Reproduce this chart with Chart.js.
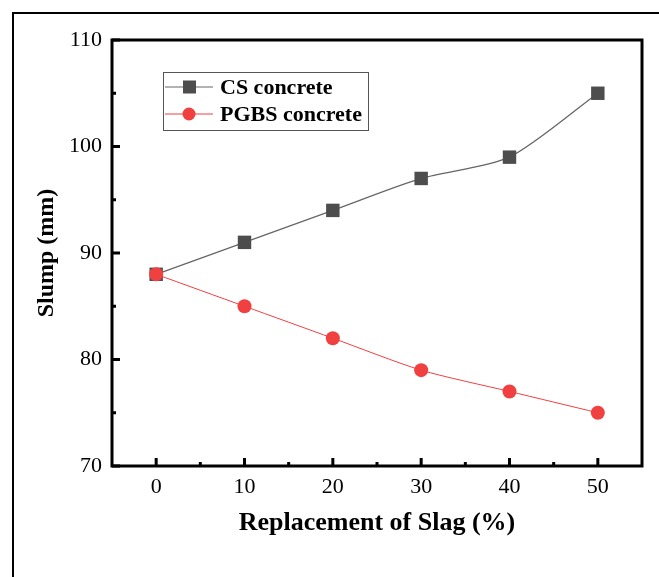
<!DOCTYPE html>
<html>
<head>
<meta charset="utf-8">
<script src="https://cdn.jsdelivr.net/npm/chart.js@4.4.0/dist/chart.umd.min.js"></script>
<style>
    html, body { margin: 0; padding: 0; background: #fff; }
    #wrap { position: relative; width: 659px; height: 577px; overflow: hidden; }
    #frame { position: absolute; left: 12px; top: 12px; width: 700px; height: 700px;
             border-top: 2px solid #000; border-left: 2px solid #000; }
    canvas { position: absolute; left: 0; top: 0; }
</style>
</head>
<body>
<div id="wrap">
    <div id="frame"></div>
    <canvas id="slumpChart" width="659" height="577"></canvas>
</div>
<script>
    // Datos
    const slagPct = [0, 10, 20, 30, 40, 50];
    const csSlump = [88, 91, 94, 97, 99, 105];
    const pgbsSlump = [88, 85, 82, 79, 77, 75];
    const xTicks = [0, 10, 20, 30, 40, 50];
    const yTicks = [70, 80, 90, 100, 110];
    const xMinor = [5, 15, 25, 35, 45];
    const yMinor = [75, 85, 95, 105];

    const serif = "'Liberation Serif', 'Times New Roman', serif";
    const grayCol = '#4d4d4d';
    const redCol = '#f04040';

    // Marco, ticks interiores, titulos y leyenda
    const decorPlugin = {
        id: 'decor',
        afterDraw(chart) {
            const ctx = chart.ctx;
            const a = chart.chartArea;
            const xs = chart.scales.x, ys = chart.scales.y;
            ctx.save();
            ctx.strokeStyle = '#000';
            ctx.lineWidth = 3;
            ctx.strokeRect(a.left, a.top, a.right - a.left, a.bottom - a.top);

            ctx.beginPath();
            xTicks.forEach(v => { const p = xs.getPixelForValue(v); ctx.moveTo(p, a.bottom); ctx.lineTo(p, a.bottom - 8); });
            xMinor.forEach(v => { const p = xs.getPixelForValue(v); ctx.moveTo(p, a.bottom); ctx.lineTo(p, a.bottom - 4); });
            yTicks.forEach(v => { const p = ys.getPixelForValue(v); ctx.moveTo(a.left, p); ctx.lineTo(a.left + 8, p); });
            yMinor.forEach(v => { const p = ys.getPixelForValue(v); ctx.moveTo(a.left, p); ctx.lineTo(a.left + 4, p); });
            ctx.stroke();

            // titulos de ejes
            ctx.fillStyle = '#000';
            ctx.textAlign = 'center';
            ctx.textBaseline = 'middle';
            ctx.font = 'bold 26px ' + serif;
            ctx.fillText('Replacement of Slag (%)', (a.left + a.right) / 2, 523);
            ctx.font = 'bold 24px ' + serif;
            ctx.save();
            ctx.translate(47, (a.top + a.bottom) / 2);
            ctx.rotate(-Math.PI / 2);
            ctx.fillText('Slump (mm)', 0, 0);
            ctx.restore();

            // leyenda
            ctx.strokeStyle = '#555';
            ctx.lineWidth = 1;
            ctx.strokeRect(163.5, 72.5, 205, 58);
            const rows = [
                { y: 87, label: 'CS concrete', ds: chart.data.datasets[0] },
                { y: 114, label: 'PGBS concrete', ds: chart.data.datasets[1] }
            ];
            rows.forEach(r => {
                ctx.strokeStyle = r.ds.borderColor;
                ctx.lineWidth = 1;
                ctx.beginPath();
                ctx.moveTo(165, r.y);
                ctx.lineTo(213, r.y);
                ctx.stroke();
                ctx.fillStyle = r.ds.pointBackgroundColor;
                if (r.ds.pointStyle === 'rect') {
                    ctx.fillRect(183, r.y - 6.5, 13, 13);
                } else {
                    ctx.beginPath();
                    ctx.arc(189, r.y, 6.5, 0, Math.PI * 2);
                    ctx.fill();
                }
                ctx.fillStyle = '#000';
                ctx.font = 'bold 22px ' + serif;
                ctx.textAlign = 'left';
                ctx.textBaseline = 'middle';
                ctx.fillText(r.label, 220, r.y + 1);
            });
            ctx.restore();
        }
    };

    const ctxSlump = document.getElementById('slumpChart').getContext('2d');
    new Chart(ctxSlump, {
        type: 'line',
        data: {
            datasets: [{
                label: 'CS concrete',
                data: slagPct.map((x, i) => ({ x: x, y: csSlump[i] })),
                borderColor: '#666',
                borderWidth: 1.3,
                pointStyle: 'rect',
                pointRadius: 9.5,
                pointBackgroundColor: grayCol,
                pointBorderColor: grayCol,
                pointBorderWidth: 0,
                tension: 0.25,
                order: 1
            }, {
                label: 'PGBS concrete',
                data: slagPct.map((x, i) => ({ x: x, y: pgbsSlump[i] })),
                borderColor: redCol,
                borderWidth: 1,
                pointStyle: 'circle',
                pointRadius: 7,
                pointBackgroundColor: redCol,
                pointBorderColor: redCol,
                pointBorderWidth: 0,
                tension: 0.25,
                order: 0
            }]
        },
        options: {
            responsive: false,
            animation: false,
            devicePixelRatio: 1,
            layout: { padding: { top: 40, right: 17, left: 0, bottom: 0 } },
            plugins: {
                legend: { display: false },
                tooltip: { enabled: false }
            },
            scales: {
                x: {
                    type: 'linear',
                    min: -5,
                    max: 55,
                    afterBuildTicks: s => { s.ticks = xTicks.map(v => ({ value: v })); },
                    afterFit: s => { s.height = 111; },
                    grid: { display: false, drawTicks: false },
                    border: { display: false },
                    ticks: {
                        padding: 8,
                        color: '#000',
                        font: { family: serif, size: 22 },
                        maxRotation: 0
                    }
                },
                y: {
                    min: 70,
                    max: 110,
                    afterBuildTicks: s => { s.ticks = yTicks.map(v => ({ value: v })); },
                    afterFit: s => { s.width = 112; },
                    grid: { display: false, drawTicks: false },
                    border: { display: false },
                    ticks: {
                        padding: 10,
                        color: '#000',
                        font: { family: serif, size: 22 }
                    }
                }
            }
        },
        plugins: [decorPlugin]
    });
</script>
</body>
</html>
